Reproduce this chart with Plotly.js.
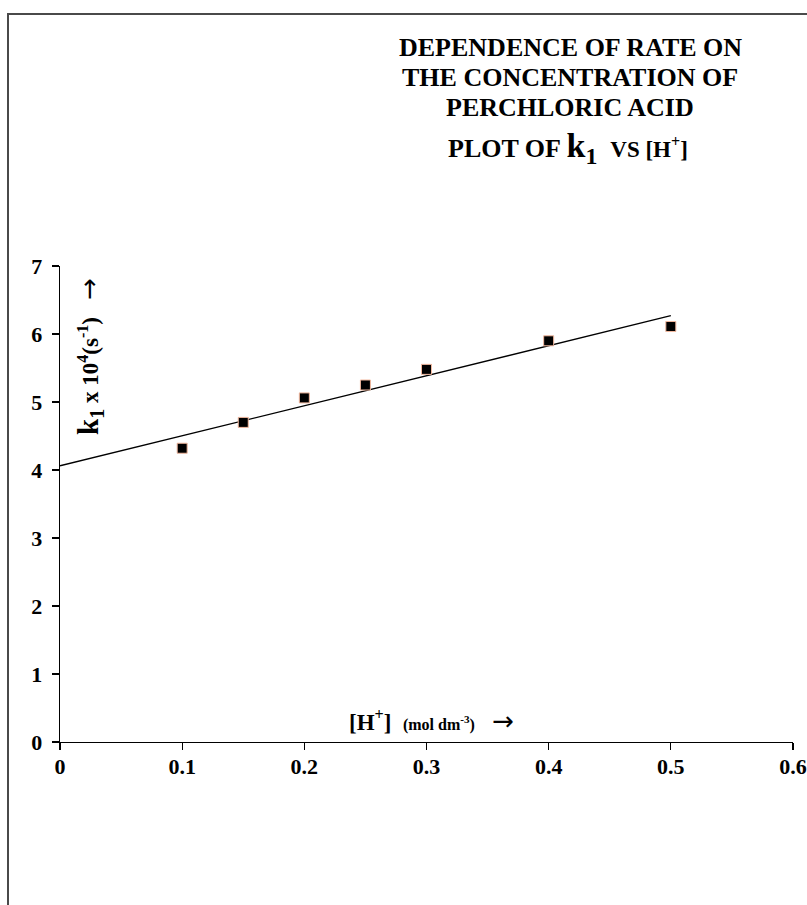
<!DOCTYPE html>
<html>
<head>
<meta charset="utf-8">
<script src="https://cdn.plot.ly/plotly-3.0.1.min.js"></script>
<style>html,body{margin:0;padding:0;background:#fff;}#chart{width:807px;height:905px;}</style>
</head>
<body>
<div id="chart"></div>
<script>
// Data
const hConc = [0.1, 0.15, 0.2, 0.25, 0.3, 0.4, 0.5];      // [H+] mol dm^-3
const k1Values = [4.32, 4.70, 5.06, 5.25, 5.48, 5.90, 6.11]; // k1 x 10^4 (s^-1)
const xTickVals = [0, 0.1, 0.2, 0.3, 0.4, 0.5, 0.6];
const xTickText = ['0', '0.1', '0.2', '0.3', '0.4', '0.5', '0.6'];
const yTickVals = [0, 1, 2, 3, 4, 5, 6, 7];
const yTickText = ['0', '1', '2', '3', '4', '5', '6', '7'];
const titleLines = [
  'DEPENDENCE OF RATE ON',
  'THE CONCENTRATION OF',
  'PERCHLORIC ACID'
];

// Linear least-squares trendline (as drawn in the reference), from x=0 to x=0.5
const n = hConc.length;
const mx = hConc.reduce((a, b) => a + b, 0) / n;
const my = k1Values.reduce((a, b) => a + b, 0) / n;
let sxy = 0, sxx = 0;
for (let i = 0; i < n; i++) { sxy += (hConc[i] - mx) * (k1Values[i] - my); sxx += (hConc[i] - mx) ** 2; }
const slope = sxy / sxx;
const intercept = my - slope * mx;
const trendX = [0, 0.5];
const trendY = trendX.map(x => intercept + slope * x);

const serif = '"Liberation Serif", "Times New Roman", serif';
const arrow = '<span style="font-family:DejaVu Sans;font-size:26px">→</span>';

const traces = [
  {
    x: trendX, y: trendY, type: 'scatter', mode: 'lines',
    line: {color: '#000', width: 1.3}, hoverinfo: 'skip', showlegend: false
  },
  {
    x: hConc, y: k1Values, type: 'scatter', mode: 'markers',
    marker: {symbol: 'square', size: 10, color: '#000', line: {color: '#f2b89e', width: 1}},
    showlegend: false
  }
];

const py = p => (742 - p) / 476; // pixel y -> paper y
const pxp = p => (p - 60) / 733; // pixel x -> paper x

const annotations = [];
const titleYs = [47, 77, 107];
titleLines.forEach((t, i) => {
  annotations.push({
    xref: 'paper', yref: 'paper', x: pxp(570), y: py(titleYs[i]),
    xanchor: 'center', yanchor: 'middle', showarrow: false,
    text: '<b>' + t + '</b>',
    font: {family: serif, size: 26, color: '#000'}
  });
});
annotations.push({
  xref: 'paper', yref: 'paper', x: pxp(568), y: py(148),
  xanchor: 'center', yanchor: 'middle', showarrow: false,
  text: '<b>PLOT OF <span style="font-size:34px">k<sub>1</sub></span>&nbsp;&nbsp;<span style="font-size:23px">VS [H<sup>+</sup>]</span></b>',
  font: {family: serif, size: 26, color: '#000'}
});
// y-axis label (inside plot, rotated)
annotations.push({
  xref: 'paper', yref: 'paper', x: pxp(90), y: py(357),
  xanchor: 'center', yanchor: 'middle', showarrow: false, textangle: -90,
  text: '<b><span style="font-size:29px">k<sub>1</sub></span> x 10<sup>4</sup>(s<sup>-1</sup>)</b>&nbsp;&nbsp;&nbsp;' + arrow,
  font: {family: serif, size: 23, color: '#000'}
});
// x-axis label
annotations.push({
  xref: 'paper', yref: 'paper', x: pxp(431), y: py(721),
  xanchor: 'center', yanchor: 'middle', showarrow: false,
  text: '<b>[H<sup>+</sup>]&nbsp;&nbsp;<span style="font-size:16px">(mol dm<sup>-3</sup>)</span></b>&nbsp;&nbsp;&nbsp;' + arrow,
  font: {family: serif, size: 23, color: '#000'}
});

const layout = {
  width: 807, height: 905,
  margin: {l: 60, r: 14, t: 266, b: 163},
  paper_bgcolor: '#fff', plot_bgcolor: '#fff',
  showlegend: false,
  xaxis: {
    range: [0, 0.6], tickvals: xTickVals, ticktext: xTickText,
    showgrid: false, zeroline: false, showline: true, linecolor: '#000', linewidth: 1.3,
    ticks: 'outside', ticklen: 7, tickcolor: '#000', tickwidth: 1.3,
    ticklabelstandoff: -3,
    tickfont: {family: serif, size: 22, color: '#000', weight: 'bold'},
    fixedrange: true
  },
  yaxis: {
    range: [0, 7], tickvals: yTickVals, ticktext: yTickText,
    showgrid: false, zeroline: false, showline: true, linecolor: '#000', linewidth: 1.3,
    ticks: 'outside', ticklen: 7, tickcolor: '#000', tickwidth: 1.3,
    ticklabelstandoff: 5,
    tickfont: {family: serif, size: 22, color: '#000', weight: 'bold'},
    fixedrange: true
  },
  annotations: annotations,
  shapes: [{
    type: 'rect', xref: 'paper', yref: 'paper',
    x0: pxp(8), x1: 1.2, y0: py(960), y1: py(14),
    line: {color: '#4a4a4a', width: 2}, fillcolor: 'rgba(0,0,0,0)', layer: 'below'
  }]
};

Plotly.newPlot('chart', traces, layout, {displayModeBar: false, staticPlot: true});
</script>
</body>
</html>
